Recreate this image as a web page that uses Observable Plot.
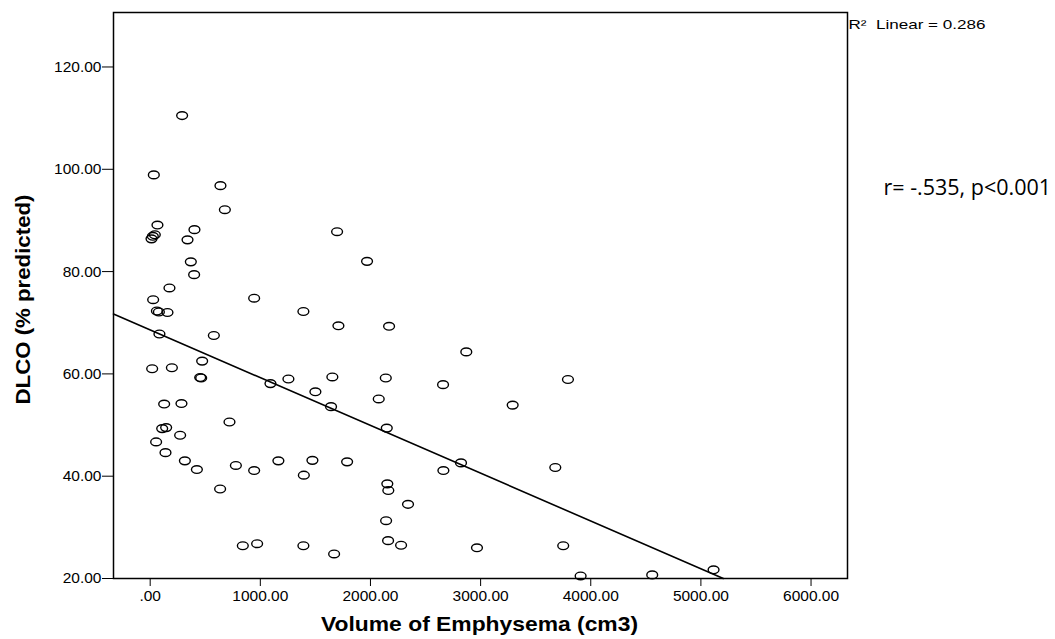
<!DOCTYPE html>
<html>
<head>
<meta charset="utf-8">
<script src="https://cdn.jsdelivr.net/npm/d3@7"></script>
<script src="https://cdn.jsdelivr.net/npm/@observablehq/plot@0.6"></script>
<style>
  html, body { margin: 0; padding: 0; background: #fff; }
  #chart svg { display: block; }
</style>
</head>
<body>
<div id="chart"></div>
<script>
// Volume of emphysema (cm3)
const emphysema = [
  290, 33, 638, 678, 66, 42, 24, 12, 402, 339,
  1697, 369, 399, 175, 27, 944, 61, 79, 157, 1391,
  1709, 84, 578, 472, 18, 197, 454, 463, 1092, 1255,
  1654, 1500, 1642, 127, 284, 720, 109, 145, 272, 54,
  139, 315, 424, 778, 944, 1164, 1395, 1473, 1788, 635,
  841, 971, 1391, 1670, 1969, 2169, 2870, 2139, 2659, 3793,
  2075, 3291, 2148, 2662, 2822, 3678, 2153, 2162, 2341, 2142,
  2160, 2278, 2967, 3750, 3908, 4558, 5115
];
// DLCO (% predicted)
const dlco = [
  110.5, 98.9, 96.8, 92.1, 89.1, 87.2, 86.9, 86.4, 88.2, 86.2,
  87.8, 81.9, 79.4, 76.8, 74.5, 74.8, 72.3, 72.1, 72.0, 72.2,
  69.4, 67.8, 67.5, 62.5, 61.0, 61.2, 59.3, 59.2, 58.1, 59.0,
  59.4, 56.5, 53.6, 54.1, 54.2, 50.6, 49.3, 49.5, 48.0, 46.7,
  44.6, 43.0, 41.3, 42.1, 41.1, 43.0, 40.2, 43.1, 42.8, 37.5,
  26.4, 26.8, 26.4, 24.8, 82.0, 69.3, 64.3, 59.2, 57.9, 58.9,
  55.1, 53.9, 49.4, 41.1, 42.6, 41.7, 38.5, 37.2, 34.5, 31.3,
  27.4, 26.5, 26.0, 26.4, 20.5, 20.7, 21.7
];
// Linear fit (as drawn in the reference)
const fitIntercept = 68.6;
const fitSlope = -0.00934;
const r2Label = "R\u00B2  Linear = 0.286";
const corrLabel = "r= -.535, p<0.001";

// Axis definitions
const xDomain = [-333, 6331];
const yDomain = [20, 130.65];
const xTicks = [0, 1000, 2000, 3000, 4000, 5000, 6000];
const yTicks = [20, 40, 60, 80, 100, 120];
const xTitle = "Volume of Emphysema (cm3)";
const yTitle = "DLCO (% predicted)";

const points = emphysema.map((v, i) => ({x: v, y: dlco[i]}));
// fit line from left edge of axis to where it meets the bottom of the axis
const xEnd = Math.min(xDomain[1], (yDomain[0] - fitIntercept) / fitSlope);
const fitLine = [xDomain[0], xEnd].map(x => ({x, y: fitIntercept + fitSlope * x}));

const fmt = d => d === 0 ? ".00" : d.toFixed(2);

// open ellipse symbol (SPSS-style marker)
const ellipse = {
  draw(context, size) {
    const r = Math.sqrt(size / Math.PI);
    const rx = r * 1.15, ry = r * 0.82, k = 0.5523;
    context.moveTo(rx, 0);
    context.bezierCurveTo(rx, k * ry, k * rx, ry, 0, ry);
    context.bezierCurveTo(-k * rx, ry, -rx, k * ry, -rx, 0);
    context.bezierCurveTo(-rx, -k * ry, -k * rx, -ry, 0, -ry);
    context.bezierCurveTo(k * rx, -ry, rx, -k * ry, rx, 0);
    context.closePath();
  }
};

const chart = Plot.plot({
  width: 1055,
  height: 639,
  marginLeft: 113,
  marginRight: 208,
  marginTop: 12,
  marginBottom: 61,
  style: {fontFamily: "'Liberation Sans', Arial, sans-serif", fontSize: "15px", color: "#000", background: "#fff"},
  x: {domain: xDomain},
  y: {domain: yDomain},
  marks: [
    Plot.axisX({ticks: xTicks, tickFormat: fmt, tickSize: 8, tickPadding: 3, label: null, fontSize: 15.5}),
    Plot.axisY({ticks: yTicks, tickFormat: fmt, tickSize: 11, tickPadding: 1, label: null, fontSize: 15.5}),
    Plot.frame({stroke: "#000", strokeWidth: 1.5}),
    Plot.line(fitLine, {x: "x", y: "y", stroke: "#000", strokeWidth: 1.6}),
    Plot.dot(points, {x: "x", y: "y", r: 4.7, symbol: ellipse, stroke: "#000", strokeWidth: 1.4, fill: "none"}),
    Plot.text([xTitle], {frameAnchor: "bottom", lineAnchor: "middle", textAnchor: "middle", dx: -1, dy: 46, fontWeight: "bold", fontSize: 21, fill: "#000"}),
    Plot.text([yTitle], {frameAnchor: "left", lineAnchor: "middle", textAnchor: "middle", dx: -90, dy: 4, rotate: -90, fontWeight: "bold", fontSize: 19.5, fill: "#000"}),
    Plot.text([r2Label], {frameAnchor: "top-right", lineAnchor: "middle", textAnchor: "start", dx: 1, dy: 12, fontSize: 13.5, fill: "#000"}),
    Plot.text([corrLabel], {frameAnchor: "top-right", lineAnchor: "middle", textAnchor: "start", dx: 36, dy: 176, fontSize: 21.5, fontFamily: "'Open Sans', 'Noto Sans', sans-serif", fill: "#000"})
  ]
});

// stretch the SPSS-style wide labels to the widths seen in the reference
const stretch = {[xTitle]: 317, [yTitle]: 210, [r2Label]: 137};
d3.select(chart).selectAll("text").each(function () {
  const w = stretch[this.textContent];
  if (w) {
    this.setAttribute("textLength", w);
    this.setAttribute("lengthAdjust", "spacingAndGlyphs");
    this.style.whiteSpace = "pre";
  }
});
document.getElementById("chart").append(chart);
</script>
</body>
</html>
